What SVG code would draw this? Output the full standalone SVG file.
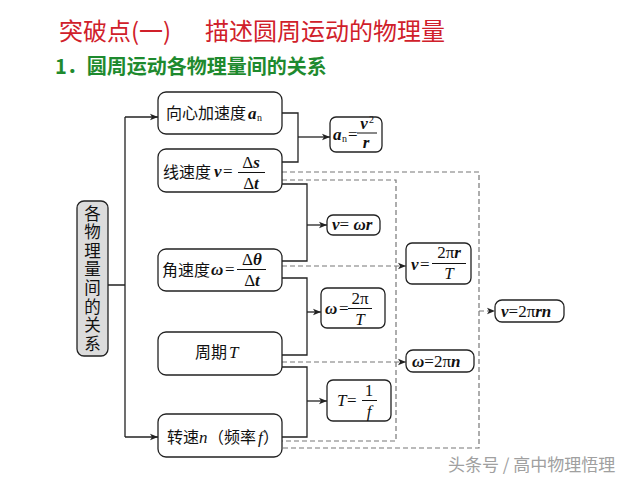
<svg xmlns="http://www.w3.org/2000/svg" width="640" height="480" viewBox="0 0 640 480">
<defs>
<style>
.box{fill:#fff;stroke:#222;stroke-width:1.3}
.gbox{fill:#dcdcdc;stroke:#222;stroke-width:1.3}
.cn{font-family:"Noto Sans CJK SC","Noto Sans",sans-serif;font-size:16px;fill:#111}
.vt{font-family:"Noto Sans CJK SC","Noto Sans",sans-serif;font-size:16.5px;fill:#111;writing-mode:vertical-rl;letter-spacing:2.1px}
.mi{font-family:"Liberation Serif",serif;font-style:italic;font-weight:bold;font-size:17px;fill:#111}
.mr{font-family:"Liberation Serif",serif;font-size:17px;fill:#111}
.sub{font-family:"Liberation Serif",serif;font-size:10px;fill:#111}
.ln{fill:none;stroke:#222;stroke-width:1.3}
.dl{fill:none;stroke:#777;stroke-width:1.2;stroke-dasharray:5,3}
.fl{stroke:#111;stroke-width:1}
</style>
<marker id="ah" viewBox="0 0 10 10" refX="10" refY="5" markerWidth="8" markerHeight="8" markerUnits="userSpaceOnUse" orient="auto">
<path d="M0,1 L10,5 L0,9 L2.5,5 Z" fill="#222"/>
</marker>
</defs>
<rect width="640" height="480" fill="#fff"/>
<text x="59" y="40" font-family="Noto Sans CJK SC,sans-serif" font-size="24" fill="#d0202a">突破点(一)</text>
<text x="205" y="40" font-family="Noto Sans CJK SC,sans-serif" font-size="24" fill="#d0202a">描述圆周运动的物理量</text>
<text x="55" y="74" font-family="Noto Sans CJK SC,sans-serif" font-size="20" font-weight="bold" fill="#1e8a2e">1．圆周运动各物理量间的关系</text>

<g id="connectors">
<path class="ln" d="M108,285 H125 M125,117 V437"/>
<path class="ln" d="M125,117 H158" marker-end="url(#ah)"/>
<path class="ln" d="M125,437 H158" marker-end="url(#ah)"/>
<path class="ln" d="M282,113 H298 V162 H282"/>
<path class="ln" d="M298,137 H330" marker-end="url(#ah)"/>
<path class="ln" d="M282,184 H307 V261 H282"/>
<path class="ln" d="M307,225 H327" marker-end="url(#ah)"/>
<path class="ln" d="M282,278 H307 V355 H282"/>
<path class="ln" d="M307,312 H321" marker-end="url(#ah)"/>
<path class="ln" d="M282,367 H307 V437 H282"/>
<path class="ln" d="M307,401 H327" marker-end="url(#ah)"/>
<path class="dl" d="M282,172 H479 V448 H282"/>
<path class="dl" d="M479,311 H495" marker-end="url(#ah)"/>
<path class="dl" d="M282,180 H396 V441 H282"/>
<path class="dl" d="M282,266 H406" marker-end="url(#ah)"/>
<path class="dl" d="M282,362 H406" marker-end="url(#ah)"/>
</g>

<g id="n-root">
<rect class="gbox" x="77" y="201" width="31" height="155" rx="7"/>
<text class="vt" x="92.5" y="205">各物理量间的关系</text>
</g>

<g id="n-an">
<rect class="box" x="158" y="92" width="124" height="42" rx="8"/>
<text class="cn" x="166" y="119">向心加速度</text>
<text class="mi" x="248" y="119">a</text>
<text class="sub" x="257" y="121">n</text>
</g>

<g id="n-v">
<rect class="box" x="158" y="149" width="124" height="43" rx="8"/>
<text class="cn" x="163" y="178">线速度</text>
<text class="mi" x="214" y="177">v</text><text class="mr" x="223" y="177">=</text>
<text class="mr" x="251" y="168" text-anchor="middle">Δ<tspan class="mi">s</tspan></text>
<line class="fl" x1="238" y1="172.5" x2="265" y2="172.5"/>
<text class="mr" x="251" y="189" text-anchor="middle">Δ<tspan class="mi">t</tspan></text>
</g>

<g id="n-w">
<rect class="box" x="158" y="249" width="124" height="42" rx="8"/>
<text class="cn" x="162" y="276">角速度</text>
<text class="mi" x="211" y="275">ω</text><text class="mr" x="225" y="275">=</text>
<text class="mr" x="252" y="265" text-anchor="middle">Δ<tspan class="mi">θ</tspan></text>
<line class="fl" x1="237" y1="269.5" x2="266" y2="269.5"/>
<text class="mr" x="252" y="286" text-anchor="middle">Δ<tspan class="mi">t</tspan></text>
</g>

<g id="n-T">
<rect class="box" x="158" y="332" width="124" height="43" rx="8"/>
<text class="cn" x="195" y="358">周期</text>
<text class="mr" x="229" y="358" font-style="italic">T</text>
</g>

<g id="n-n">
<rect class="box" x="158" y="414" width="124" height="43" rx="8"/>
<text class="cn" x="167" y="443">转速</text>
<text class="mr" x="199" y="443" font-style="italic">n</text>
<text class="cn" x="208" y="443">（频率</text>
<text class="mr" x="258" y="443" font-style="italic">f</text>
<text class="cn" x="263" y="443">）</text>
</g>

<g id="r-an">
<rect class="box" x="330" y="117" width="52" height="35" rx="6"/>
<text class="mi" x="333" y="140">a</text>
<text class="sub" x="342" y="142">n</text>
<text class="mr" x="348" y="140">=</text>
<text class="mi" x="364" y="129" text-anchor="middle">v</text>
<text class="sub" x="369" y="123" font-size="9">2</text>
<line class="fl" x1="357" y1="133" x2="377" y2="133"/>
<text class="mi" x="366" y="148" text-anchor="middle">r</text>
</g>

<g id="r-wr">
<rect class="box" x="327" y="215" width="53" height="20" rx="6"/>
<text x="332" y="230"><tspan class="mi">v</tspan><tspan class="mr">= </tspan><tspan class="mi">ωr</tspan></text>
</g>

<g id="r-wT">
<rect class="box" x="321" y="288" width="64" height="40" rx="6"/>
<text class="mi" x="325" y="314">ω</text><text class="mr" x="339" y="314">=</text>
<text class="mr" x="360" y="304" text-anchor="middle">2π</text>
<line class="fl" x1="348" y1="308.5" x2="372" y2="308.5"/>
<text class="mr" x="360" y="325" text-anchor="middle" font-style="italic">T</text>
</g>

<g id="r-Tf">
<rect class="box" x="327" y="380" width="64" height="41" rx="6"/>
<text class="mr" x="337" y="406" font-style="italic">T</text><text class="mr" x="347" y="406">=</text>
<text class="mr" x="369" y="396" text-anchor="middle">1</text>
<line class="fl" x1="362" y1="400.5" x2="377" y2="400.5"/>
<text class="mr" x="369" y="417" text-anchor="middle" font-style="italic">f</text>
</g>

<g id="r-vT">
<rect class="box" x="406" y="243" width="65" height="41" rx="6"/>
<text class="mi" x="411" y="270">v</text><text class="mr" x="420" y="270">=</text>
<text x="449" y="258" text-anchor="middle"><tspan class="mr">2π</tspan><tspan class="mi">r</tspan></text>
<line class="fl" x1="432" y1="263.5" x2="466" y2="263.5"/>
<text class="mr" x="449" y="279" text-anchor="middle" font-style="italic">T</text>
</g>

<g id="r-wn">
<rect class="box" x="406" y="350" width="68" height="22" rx="7"/>
<text x="412" y="367"><tspan class="mi">ω</tspan><tspan class="mr">=2π</tspan><tspan class="mi">n</tspan></text>
</g>

<g id="r-vrn">
<rect class="box" x="495" y="300" width="69" height="22" rx="7"/>
<text x="501" y="317"><tspan class="mi">v</tspan><tspan class="mr">=2π</tspan><tspan class="mi">rn</tspan></text>
</g>

<text x="448" y="471" font-family="Noto Sans CJK SC,sans-serif" font-size="17" fill="#a0a0a0">头条号 / 高中物理悟理</text>
</svg>
